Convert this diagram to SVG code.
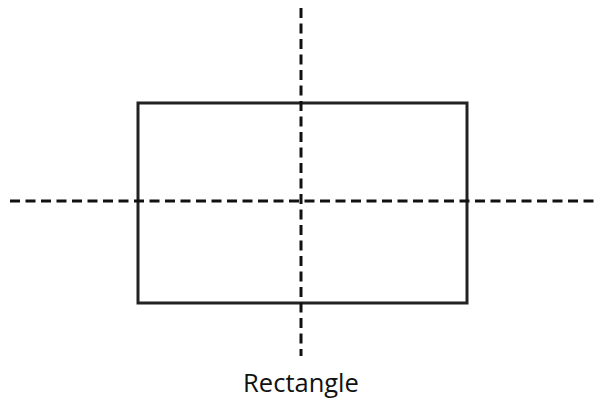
<svg xmlns="http://www.w3.org/2000/svg" width="594" height="400" viewBox="0 0 594 400">
<style>
.dash{stroke:#111;stroke-width:3;stroke-dasharray:10 5.5;fill:none}
.box{stroke:#222;stroke-width:3;fill:none}
.lbl{font-family:"Open Sans","Liberation Sans",sans-serif;font-size:25.5px;fill:#111;text-anchor:middle}
</style>
<rect width="594" height="400" fill="#fff"/>
<g id="rectangle"><rect class="box" x="138" y="103" width="329" height="200"/></g>
<g id="connectors">
<line class="dash" x1="10" y1="201" x2="594" y2="201"/>
<line class="dash" x1="301" y1="8" x2="301" y2="356"/>
</g>
<g id="label"><text class="lbl" x="301" y="392">Rectangle</text></g>
</svg>
